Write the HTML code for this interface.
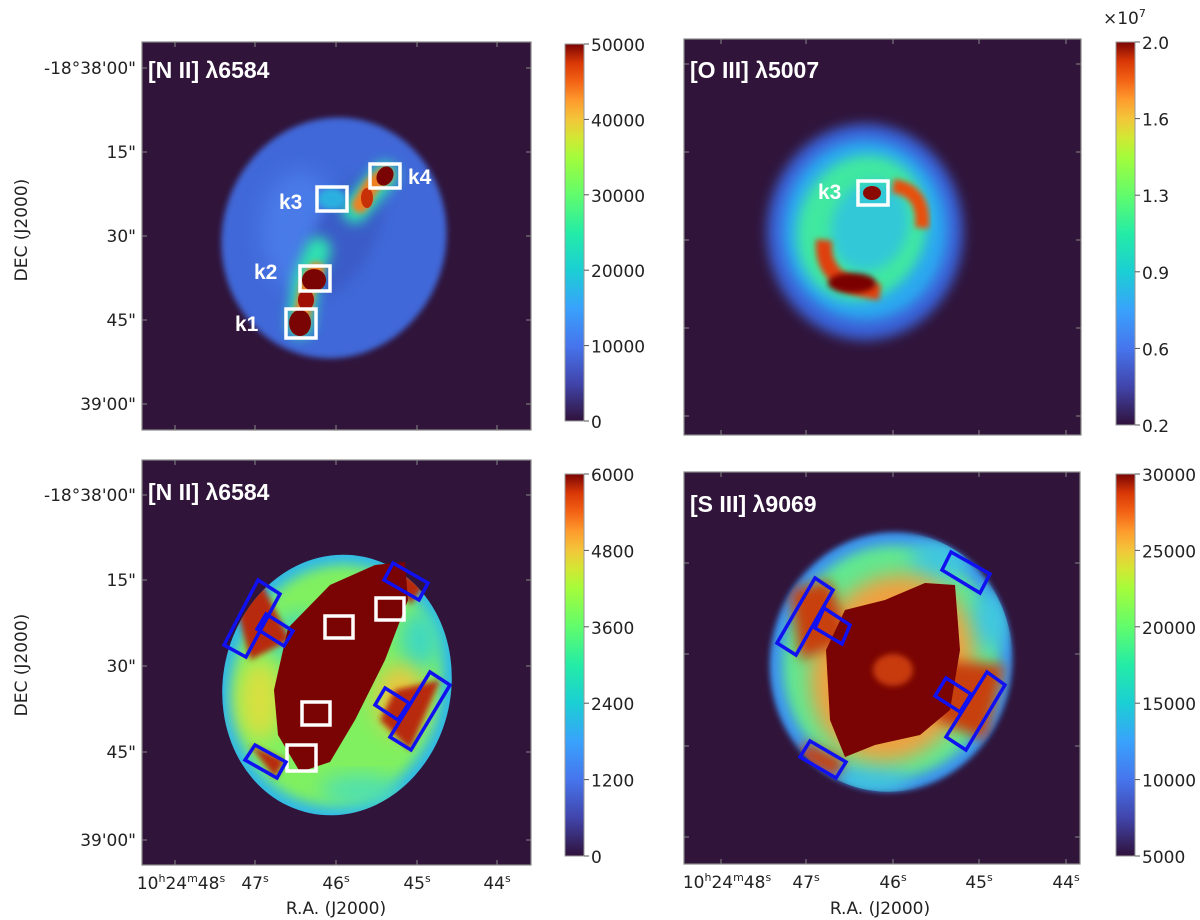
<!DOCTYPE html>
<html><head><meta charset="utf-8">
<style>
html,body{margin:0;padding:0;background:#fff;}
svg{display:block;font-family:"DejaVu Sans","Liberation Sans",sans-serif;}
.tl{font-size:17px;fill:#222;}
.ttl{font-family:"Liberation Sans",sans-serif;font-weight:bold;fill:#fff;font-size:23px;}
.kl{font-family:"Liberation Sans",sans-serif;font-weight:bold;fill:#fff;font-size:21px;}
</style></head>
<body>
<svg id="fig" width="1200" height="920" viewBox="0 0 1200 920">
<defs>
<linearGradient id="turbo" x1="0" y1="1" x2="0" y2="0">
<stop offset="0" stop-color="#30123b"/><stop offset="0.1" stop-color="#4145ab"/><stop offset="0.2" stop-color="#4675ed"/>
<stop offset="0.3" stop-color="#39a2fc"/><stop offset="0.4" stop-color="#1bcfd4"/><stop offset="0.5" stop-color="#24eca6"/>
<stop offset="0.6" stop-color="#61fc6c"/><stop offset="0.7" stop-color="#a4fc3b"/><stop offset="0.75" stop-color="#d1e834"/>
<stop offset="0.8" stop-color="#f3c63a"/><stop offset="0.85" stop-color="#fe9b2d"/><stop offset="0.9" stop-color="#f36315"/>
<stop offset="0.95" stop-color="#d93806"/><stop offset="1" stop-color="#7a0403"/>
</linearGradient>
<filter id="b6" x="-30%" y="-30%" width="160%" height="160%"><feGaussianBlur stdDeviation="6"/></filter>
<filter id="b3" x="-30%" y="-30%" width="160%" height="160%"><feGaussianBlur stdDeviation="3"/></filter>
<filter id="b10" x="-30%" y="-30%" width="160%" height="160%"><feGaussianBlur stdDeviation="10"/></filter>
<clipPath id="cTL"><rect x="142" y="42" width="389" height="388"/></clipPath>
<clipPath id="cTR"><rect x="684" y="39" width="397" height="396"/></clipPath>
<clipPath id="cBL"><rect x="142" y="460" width="389" height="405"/></clipPath>
<clipPath id="cBR"><rect x="684" y="472" width="396" height="392"/></clipPath>
<clipPath id="eBL"><ellipse cx="337" cy="685" rx="114" ry="131" transform="rotate(12 337 685)"/></clipPath>
<clipPath id="eBR"><ellipse cx="891" cy="662" rx="121" ry="130" transform="rotate(10 891 662)"/></clipPath>
</defs>

<!-- TL panel -->
<g>
<rect x="142" y="42" width="389" height="388" fill="#30143a"/>
<g clip-path="url(#cTL)">
<ellipse cx="334" cy="238" rx="112" ry="121" transform="rotate(15 334 238)" fill="#4068d8" filter="url(#b3)"/>
<ellipse cx="300" cy="230" rx="40" ry="60" fill="#4a7ae8" filter="url(#b10)"/>
<ellipse cx="345" cy="235" rx="30" ry="65" transform="rotate(25 345 235)" fill="#3a5cc8" filter="url(#b6)"/>
<path d="M300,325 L306,280 L318,250 M355,210 L385,175" stroke="#2fe0b0" stroke-width="26" fill="none" stroke-linecap="round" filter="url(#b6)"/>
<path d="M300,325 L308,285 L316,270 M360,205 L372,185 L385,175" stroke="#f08020" stroke-width="16" fill="none" stroke-linecap="round" filter="url(#b3)"/>
<ellipse cx="300" cy="323" rx="11" ry="13" fill="#7a0403"/>
<ellipse cx="314" cy="280" rx="12" ry="11" fill="#7a0403"/>
<ellipse cx="306" cy="300" rx="8" ry="10" fill="#a01004"/>
<ellipse cx="385" cy="176" rx="8" ry="10" transform="rotate(30 385 176)" fill="#7a0403"/>
<ellipse cx="367" cy="198" rx="6" ry="10" fill="#c83008"/>
<ellipse cx="332" cy="199" rx="14" ry="11" fill="#2ab0e0" filter="url(#b3)"/>
</g>
<text class="ttl" x="148" y="78">[N II] λ6584</text>
<g fill="none" stroke="#fff" stroke-width="3.5">
<rect x="370" y="164" width="30" height="24"/>
<rect x="317" y="187" width="30" height="24"/>
<rect x="300" y="266" width="30" height="25"/>
<rect x="286" y="309" width="30" height="29"/>
</g>
<text class="kl" x="408" y="184">k4</text>
<text class="kl" x="279" y="209">k3</text>
<text class="kl" x="254" y="279">k2</text>
<text class="kl" x="235" y="331">k1</text>
</g>

<!-- TR panel -->
<g>
<rect x="684" y="39" width="397" height="396" fill="#30143a"/>
<g clip-path="url(#cTR)">
<ellipse cx="865" cy="232" rx="98" ry="108" fill="#3a62d8" filter="url(#b6)"/>
<ellipse cx="865" cy="230" rx="82" ry="90" fill="#2aa8f0" filter="url(#b6)"/>
<ellipse cx="862" cy="228" rx="64" ry="74" transform="rotate(20 862 228)" fill="#40e8a0" filter="url(#b6)"/>
<ellipse cx="870" cy="226" rx="38" ry="46" transform="rotate(20 870 226)" fill="#30c8d8" filter="url(#b6)"/>
<path d="M824,240 Q820,285 880,292" stroke="#e04008" stroke-width="16" fill="none" filter="url(#b3)"/>
<ellipse cx="852" cy="283" rx="24" ry="10" fill="#7a0403" filter="url(#b3)"/>
<path d="M893,186 Q925,190 922,228" stroke="#e85010" stroke-width="14" fill="none" filter="url(#b3)"/>
<ellipse cx="872" cy="193" rx="9" ry="7" fill="#8a0a03"/>
</g>
<text class="ttl" x="690" y="78">[O III] λ5007</text>
<rect x="858" y="181" width="30" height="24" fill="none" stroke="#fff" stroke-width="3.5"/>
<text class="kl" x="818" y="199">k3</text>
</g>

<!-- BL panel -->
<g>
<rect x="142" y="460" width="389" height="405" fill="#30143a"/>
<g clip-path="url(#cBL)">
<ellipse cx="337" cy="685" rx="114" ry="131" transform="rotate(12 337 685)" fill="#30b8e8"/>
<g clip-path="url(#eBL)">
<ellipse cx="337" cy="685" rx="104" ry="121" transform="rotate(12 337 685)" fill="#80f060" filter="url(#b6)"/>
<ellipse cx="300" cy="640" rx="30" ry="25" fill="#40d8c0" filter="url(#b10)"/>
<ellipse cx="420" cy="640" rx="20" ry="30" fill="#40d8c0" filter="url(#b10)"/>
<ellipse cx="360" cy="790" rx="40" ry="15" fill="#50e0b0" filter="url(#b10)"/>
<ellipse cx="260" cy="700" rx="22" ry="40" fill="#d8e040" filter="url(#b10)"/>
<ellipse cx="400" cy="700" rx="25" ry="35" fill="#e8c840" filter="url(#b10)"/>
<path d="M235,600 L260,580 L290,640 L250,660 Z M390,565 L425,585 L410,605 Z M395,690 L440,680 L410,750 L380,720 Z M250,745 L285,760 L275,778 Z" fill="#b82a08" filter="url(#b3)"/>
</g>
<path d="M300,772 L278,735 L274,690 L288,628 L330,585 L375,565 L405,562 L408,600 L385,660 L355,720 L330,762 Z" fill="#7a0403"/>
</g>
<text class="ttl" x="148" y="500">[N II] λ6584</text>
<g fill="none" stroke="#fff" stroke-width="3.5">
<rect x="325" y="616" width="28" height="22"/>
<rect x="376" y="598" width="28" height="22"/>
<rect x="302" y="702" width="28" height="23"/>
<rect x="287" y="745" width="29" height="26"/>
</g>
<g fill="none" stroke="#1010f0" stroke-width="3.5">
<polygon points="258,580 280,594 246,657 224,645"/>
<polygon points="266,614 293,631 284,646 257,629"/>
<polygon points="393,563 428,583 419,600 384,580"/>
<polygon points="430,672 450,685 411,750 390,737"/>
<polygon points="385,688 409,703 398,720 375,705"/>
<polygon points="255,745 286,762 277,778 245,760"/>
</g>
</g>

<!-- BR panel -->
<g>
<rect x="684" y="472" width="396" height="392" fill="#30143a"/>
<g clip-path="url(#cBR)">
<ellipse cx="891" cy="662" rx="121" ry="130" transform="rotate(10 891 662)" fill="#3a90f0" filter="url(#b3)"/>
<g clip-path="url(#eBR)">
<ellipse cx="891" cy="662" rx="108" ry="117" transform="rotate(10 891 662)" fill="#60e890" filter="url(#b6)"/>
<ellipse cx="940" cy="560" rx="30" ry="20" fill="#40c8e0" filter="url(#b10)"/>
<ellipse cx="990" cy="620" rx="20" ry="30" fill="#40c8e0" filter="url(#b10)"/>
<ellipse cx="870" cy="780" rx="40" ry="14" fill="#40c8e0" filter="url(#b10)"/>
<ellipse cx="892" cy="668" rx="80" ry="95" transform="rotate(20 892 668)" fill="#f0a040" filter="url(#b10)"/>
<path d="M790,590 L830,580 L850,640 L800,660 Z M935,660 L1005,665 L985,740 L935,720 Z M805,742 L845,760 L835,778 L800,758 Z" fill="#c8400c" filter="url(#b6)"/>
</g>
<path d="M845,757 L830,720 L826,650 L845,610 L885,600 L925,583 L955,585 L960,650 L950,710 L920,735 L875,745 Z" fill="#7a0403"/>
<ellipse cx="893" cy="670" rx="20" ry="16" fill="#c83a0a" filter="url(#b3)"/>
</g>
<text class="ttl" x="690" y="512">[S III] λ9069</text>
<g fill="none" stroke="#1010f0" stroke-width="3.5">
<polygon points="951,552 990,574 980,593 942,570"/>
<polygon points="815,578 833,590 796,655 777,643"/>
<polygon points="824,608 850,625 842,644 815,628"/>
<polygon points="987,672 1005,685 966,750 946,737"/>
<polygon points="946,678 971,694 960,712 935,696"/>
<polygon points="810,741 846,762 836,778 800,757"/>
</g>
</g>

<!-- axes labels -->
<text class="tl" transform="translate(27,230) rotate(-90)" text-anchor="middle" font-size="16">DEC (J2000)</text>
<text class="tl" transform="translate(27,665) rotate(-90)" text-anchor="middle" font-size="16">DEC (J2000)</text>
<text class="tl" x="336" y="914" text-anchor="middle">R.A. (J2000)</text>
<text class="tl" x="880" y="914" text-anchor="middle">R.A. (J2000)</text>
<text class="tl" x="1103" y="24" font-size="16">×10<tspan dy="-7" font-size="11">7</tspan></text>
<g id="dyn"></g>
</svg>
<script>
const decLabels = ["-18°38'00\"", "15\"", "30\"", "45\"", "39'00\""];
const raLabels = ["48", "47", "46", "45", "44"];
const cbNiiTop = ["50000", "40000", "30000", "20000", "10000", "0"];
const cbOiii = ["2.0", "1.6", "1.3", "0.9", "0.6", "0.2"];
const cbNiiBot = ["6000", "4800", "3600", "2400", "1200", "0"];
const cbSiii = ["30000", "25000", "20000", "15000", "10000", "5000"];

const NS = "http://www.w3.org/2000/svg";
const g = document.getElementById('dyn');
function mk(tag, attrs) { const e = document.createElementNS(NS, tag); for (const k in attrs) e.setAttribute(k, attrs[k]); g.appendChild(e); return e; }

const panels = [
  {x:142,y:42,w:389,h:388,ys:[68,152,236,320,404],xs:[175,255,336,417,497],yl:true,xl:false},
  {x:684,y:39,w:397,h:396,ys:[64,152,240,328,416],xs:[721,806,893,979,1066],yl:false,xl:false},
  {x:142,y:460,w:389,h:405,ys:[495,580,666,752,840],xs:[175,255,336,417,497],yl:true,xl:true},
  {x:684,y:472,w:396,h:392,ys:[472,563,654,746,837],xs:[721,806,893,979,1066],yl:false,xl:true}
];
panels.forEach((p, pi) => {
  const fr = mk('rect', {x:p.x, y:p.y, width:p.w, height:p.h, fill:'none', stroke:'#888', 'stroke-width':1.2});
  
  
  decLabels.forEach((lab, i) => {
    const yy = p.ys[i];
    if (pi === 3 && i === 0) return;
    mk('line', {x1:p.x, x2:p.x+5, y1:yy, y2:yy, stroke:'#888'});
    mk('line', {x1:p.x+p.w-5, x2:p.x+p.w, y1:yy, y2:yy, stroke:'#888'});
    if (p.yl) {
      const t = mk('text', {x:p.x-6, y:yy+6, 'text-anchor':'end', class:'tl'});
      t.textContent = lab;
      
      
    }
  });
  raLabels.forEach((lab, i) => {
    const xx = p.xs[i];
    mk('line', {x1:xx, x2:xx, y1:p.y, y2:p.y+5, stroke:'#888'});
    mk('line', {x1:xx, x2:xx, y1:p.y+p.h-5, y2:p.y+p.h, stroke:'#888'});
    if (p.xl) {
      const t = mk('text', {x:xx, y:p.y+p.h+24, 'text-anchor':'middle', class:'tl'});
      
      
      if (i === 0) {
        t.innerHTML = '10<tspan dy="-7" font-size="11">h</tspan><tspan dy="7">24</tspan><tspan dy="-7" font-size="11">m</tspan><tspan dy="7">48</tspan><tspan dy="-7" font-size="11">s</tspan>';
        t.setAttribute('x', xx+6);
      } else {
        t.innerHTML = lab + '<tspan dy="-7" font-size="11">s</tspan>';
      }
    }
  });
});

const cbs = [
  {x:565,y:44,h:377,labs:cbNiiTop},
  {x:1116,y:42,h:383,labs:cbOiii},
  {x:565,y:474,h:382,labs:cbNiiBot},
  {x:1116,y:474,h:382,labs:cbSiii}
];
cbs.forEach(c => {
  const r = mk('rect', {x:c.x, y:c.y, width:19, height:c.h, fill:'url(#turbo)', stroke:'#999', 'stroke-width':1});
  
  
  const n = c.labs.length - 1;
  c.labs.forEach((lab, i) => {
    const yy = c.y + c.h * i / n;
    mk('line', {x1:c.x+19, x2:c.x+24, y1:yy, y2:yy, stroke:'#555'});
    const t = mk('text', {x:c.x+26, y:yy+7, class:'tl'});
    t.textContent = lab;
    
    
  });
});
</script>
</body></html>
